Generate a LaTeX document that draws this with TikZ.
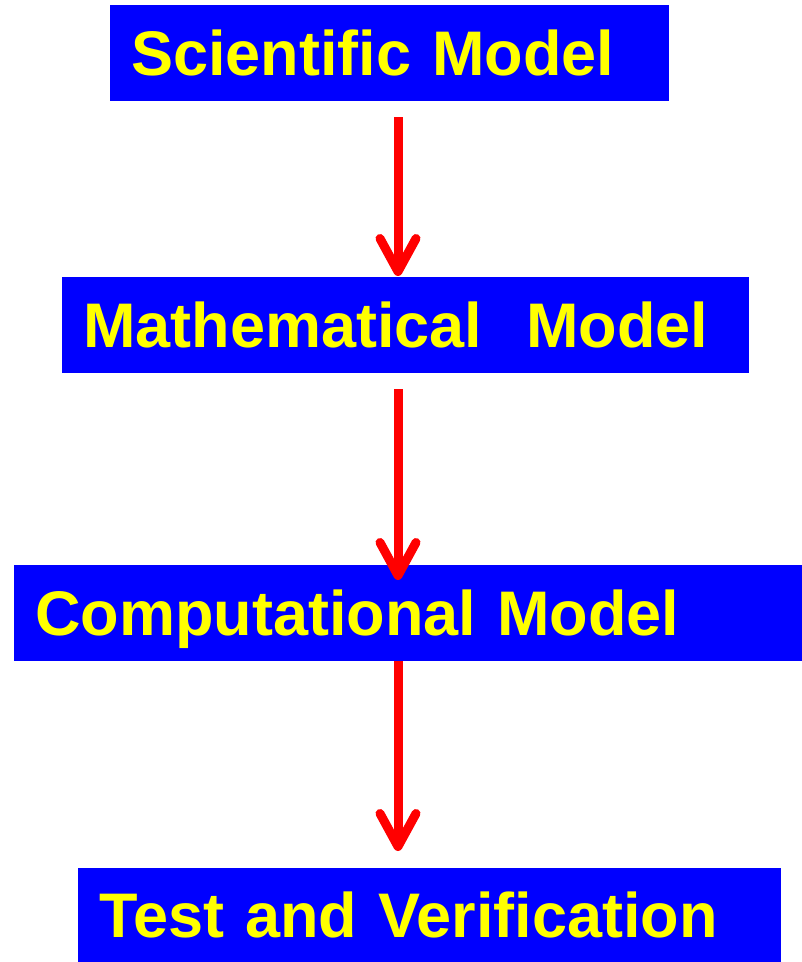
\documentclass[tikz,border=0pt]{standalone}
\usepackage{fontspec}
\setmainfont{Liberation Sans}
\usetikzlibrary{arrows.meta,calc}
\definecolor{boxblue}{RGB}{0,0,255}
\definecolor{txtyellow}{RGB}{255,255,0}
\definecolor{arrred}{RGB}{255,0,0}
\begin{document}
\begin{tikzpicture}[x=1pt,y=1pt,
  modelbox/.style={fill=boxblue, draw=none, anchor=north west, inner xsep=21pt, inner ysep=0pt,
    align=left, text=txtyellow, font=\bfseries\fontsize{63}{70}\selectfont,
    text height=45pt, text depth=0pt},
  flowarrow/.style={draw=arrred, line width=9pt,
    -{Straight Barb[length=33pt,width=36pt,round]}}]
\useasboundingbox (0,0) rectangle (802,-962);
\node[modelbox, minimum width=559pt, minimum height=96pt, text width=517pt] (b1) at (110,-5) {Scientific Model};
\node[modelbox, minimum width=687pt, minimum height=96pt, text width=645pt] (b2) at (62,-277) {Mathematical\hspace{0.7em}Model};
\node[modelbox, minimum width=788pt, minimum height=96pt, text width=746pt] (b3) at (14,-565) {Computational Model};
\node[modelbox, minimum width=703pt, minimum height=94pt, text width=661pt] (b4) at (78,-868) {Test and Verification};
\coordinate (ax) at (398,0);
\draw[flowarrow] ($(b1.south -| ax)+(0,-16)$) -- ($(b2.north -| ax)+(0,1)$);
\draw[flowarrow] ($(b2.south -| ax)+(0,-16)$) -- ($(b3.north -| ax)+(0,-15)$);
\draw[flowarrow] (b3.south -| ax) -- ($(b4.north -| ax)+(0,17)$);
\end{tikzpicture}
\end{document}
